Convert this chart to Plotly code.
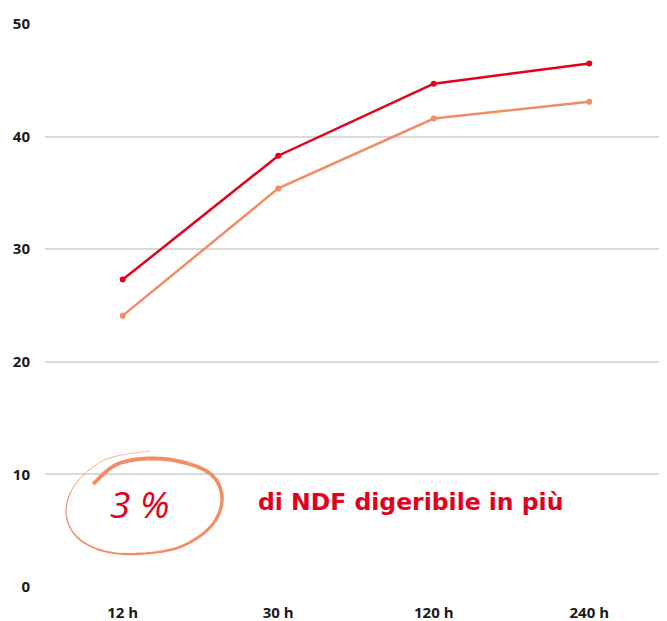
import plotly.graph_objects as go
import numpy as np

categories = ["12 h", "30 h", "120 h", "240 h"]
series_top = [27.3, 38.3, 44.7, 46.5]
series_bottom = [24.1, 35.4, 41.6, 43.1]
y_ticks = [0, 10, 20, 30, 40, 50]

RED = "#E2001A"
ORANGE = "#F28C64"

# page has an 8px body margin; figure is sized so the plot lands where the reference has it
OFF = 8
W, H = 667 - OFF, 621 - OFF
ML, MR, MT, MB = 45 - OFF, 0, 24 - OFF, 34
PW, PH = W - ML - MR, H - MT - MB


def px2paper(px, py):
    # page pixel -> paper coords
    fx, fy = px - OFF, py - OFF
    return (fx - ML) / PW, (H - MB - fy) / PH


fig = go.Figure()
fig.add_trace(go.Scatter(x=categories, y=series_bottom, mode="lines+markers",
                         line=dict(color=ORANGE, width=2.5),
                         marker=dict(color=ORANGE, size=6), showlegend=False))
fig.add_trace(go.Scatter(x=categories, y=series_top, mode="lines+markers",
                         line=dict(color=RED, width=2.5),
                         marker=dict(color=RED, size=6), showlegend=False))

# hand-drawn ellipse decoration (page pixel guide points)
guide = [(150, 451), (107, 459), (77, 482), (66, 510), (75, 535), (100, 550),
         (135, 554), (180, 547), (212, 525), (222, 497), (208, 472), (165, 459),
         (120, 463), (93, 484)]
g = np.array(guide, dtype=float)
pts = []
for i in range(len(g) - 1):
    p0 = g[max(i - 1, 0)]
    p1 = g[i]
    p2 = g[i + 1]
    p3 = g[min(i + 2, len(g) - 1)]
    for t in np.linspace(0, 1, 8, endpoint=False):
        t2, t3 = t * t, t * t * t
        p = 0.5 * ((2 * p1) + (-p0 + p2) * t + (2 * p0 - 5 * p1 + 4 * p2 - p3) * t2
                   + (-p0 + 3 * p1 - 3 * p2 + p3) * t3)
        pts.append(p)
pts.append(g[-1])
pts = np.array(pts)
n = len(pts)
chunks = 16
shapes = []
for c in range(chunks):
    a = int(c * (n - 1) / chunks)
    b = int((c + 1) * (n - 1) / chunks)
    seg = pts[a:b + 1]
    frac = c / (chunks - 1)
    width = 0.6 + 3.2 * min(1.0, (frac ** 1.3) * 1.4)
    path = ""
    for j, (x, y) in enumerate(seg):
        xp, yp = px2paper(x, y)
        path += ("M" if j == 0 else "L") + f"{xp:.5f},{yp:.5f} "
    shapes.append(dict(type="path", xref="paper", yref="paper", path=path,
                       line=dict(color=ORANGE, width=width), layer="above"))

ax, ay = px2paper(139, 503)
bx, by = px2paper(410, 502)
annotations = [
    dict(x=ax, y=ay, xref="paper", yref="paper", text="<i>3 %</i>", showarrow=False,
         font=dict(family="Open Sans", size=37, color=RED, weight=400),
         xanchor="center", yanchor="middle"),
    dict(x=bx, y=by, xref="paper", yref="paper", text="di NDF digeribile in più",
         showarrow=False, font=dict(family="DejaVu Sans", size=23.5, color=RED, weight="bold"),
         xanchor="center", yanchor="middle"),
]

fig.update_layout(
    width=W, height=H,
    margin=dict(l=ML, r=MR, t=MT, b=MB),
    paper_bgcolor="white", plot_bgcolor="white",
    shapes=shapes, annotations=annotations,
    font=dict(family="Open Sans", color="#1a1a1a"),
)
fig.update_xaxes(type="category", range=[-0.5, 3.5], showgrid=False, showline=False,
                 zeroline=False, ticks="", ticklabelstandoff=15,
                 tickfont=dict(size=15, weight="bold", color="#1a1a1a"))
fig.update_yaxes(range=[0, 50], tickvals=y_ticks, showgrid=True, gridcolor="#D9D9D9",
                 gridwidth=2, zeroline=False, showline=False, ticks="",
                 ticklabelstandoff=14,
                 tickfont=dict(size=15, weight="bold", color="#1a1a1a"))

fig.write_html("out.html")
